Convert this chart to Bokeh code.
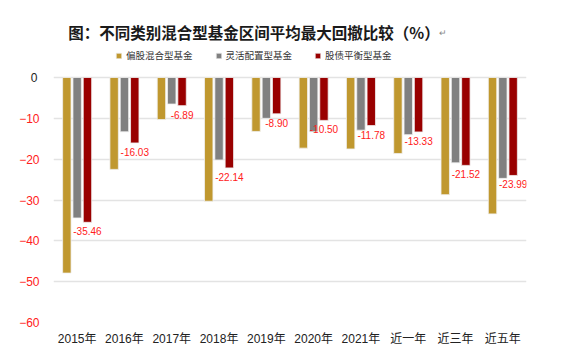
from bokeh.plotting import figure
from bokeh.models import ColumnDataSource, Range1d, FixedTicker, Label, Legend, LegendItem, LinearAxis
from bokeh.transform import dodge
from bokeh.core.properties import value
from bokeh.embed import file_html
from bokeh.resources import INLINE

categories = ["2015年", "2016年", "2017年", "2018年", "2019年", "2020年", "2021年", "近一年", "近三年", "近五年"]
series_names = ["偏股混合型基金", "灵活配置型基金", "股债平衡型基金"]
stock_mixed = [-47.9, -22.5, -10.3, -30.3, -13.2, -17.3, -17.5, -18.6, -28.7, -33.4]
flexible = [-34.4, -13.3, -6.5, -20.2, -10.0, -13.3, -12.9, -14.0, -20.9, -24.7]
balanced = [-35.46, -16.03, -6.89, -22.14, -8.90, -10.50, -11.78, -13.33, -21.52, -23.99]
y_ticks_neg = [-60, -50, -40, -30, -20, -10]
y_tick_zero = [0]
title_text = "图：不同类别混合型基金区间平均最大回撤比较（%）"

colors = ["#C0982F", "#808080", "#990000"]
CJK = "Noto Sans CJK SC"
LAT = "Liberation Sans"
MIX = "'Liberation Sans', 'Noto Sans CJK SC'"
RED = "#FF2020"

src = ColumnDataSource(dict(
    cat=categories, s1=stock_mixed, s2=flexible, s3=balanced,
    lab=["%.2f" % v for v in balanced],
))

p = figure(x_range=categories, y_range=Range1d(-60, 18.86), width=568, height=361,
           output_backend="svg", toolbar_location=None,
           min_border_left=53, min_border_right=42, min_border_top=0, min_border_bottom=39)
p.outline_line_color = None
p.background_fill_color = "white"
p.border_fill_color = "white"

offs = [-0.218, 0.0, 0.218]
renderers = []
for col, off, c in zip(["s1", "s2", "s3"], offs, colors):
    r = p.vbar(x=dodge("cat", off, range=p.x_range), top=col, bottom=0, width=0.178,
               source=src, fill_color=c, line_color="#f0f0f0", line_width=0.8)
    renderers.append(r)

p.text(x=dodge("cat", 0.218, range=p.x_range), y="s3", text="lab", source=src,
       text_color=RED, text_font=value(LAT), text_font_size="10px",
       text_align="center", text_baseline="top", y_offset=5)

# grid
p.xgrid.grid_line_color = None
p.ygrid.grid_line_color = "#e3e3e3"
p.ygrid.grid_line_width = 1.5
p.ygrid.ticker = FixedTicker(ticks=y_ticks_neg + y_tick_zero)

# axes
def style(ax):
    ax.axis_line_color = None
    ax.major_tick_line_color = None
    ax.minor_tick_line_color = None
    ax.major_tick_out = 0
    ax.major_tick_in = 0
    ax.major_label_text_font = LAT
    ax.major_label_text_font_size = "12px"

style(p.xaxis[0])
style(p.yaxis[0])
p.yaxis[0].ticker = FixedTicker(ticks=y_ticks_neg)
p.yaxis[0].major_label_text_color = RED
p.yaxis[0].major_label_standoff = 14
p.xaxis.major_label_text_color = "#222222"
p.xaxis.major_label_standoff = 9
p.xaxis.major_label_text_font = MIX

zero_axis = LinearAxis(ticker=FixedTicker(ticks=y_tick_zero))
style(zero_axis)
zero_axis.major_label_text_color = "#222222"
zero_axis.major_label_standoff = -21
p.add_layout(zero_axis, "left")

# title
p.add_layout(Label(x=200.5, x_units="screen", y=291, y_units="screen", text=title_text,
                   text_align="center", text_baseline="middle", text_font=CJK,
                   text_font_size="15.5px", text_font_style="bold", text_color="#1a1a1a"))
p.add_layout(Label(x=385, x_units="screen", y=290, y_units="screen", text="↵",
                   text_align="left", text_baseline="middle", text_font=CJK,
                   text_font_size="9px", text_color="#888888"))

legend = Legend(items=[LegendItem(label=n, renderers=[r]) for n, r in zip(series_names, renderers)],
                orientation="horizontal", location=(62, 260), padding=0, margin=0,
                spacing=22, label_standoff=4, glyph_width=7, glyph_height=7,
                label_height=12, label_text_font=CJK, label_text_font_size="9.5px",
                label_text_color="#333333", border_line_color=None,
                background_fill_alpha=0)
p.add_layout(legend, "center")

open("out.html", "w").write(file_html(p, INLINE))
